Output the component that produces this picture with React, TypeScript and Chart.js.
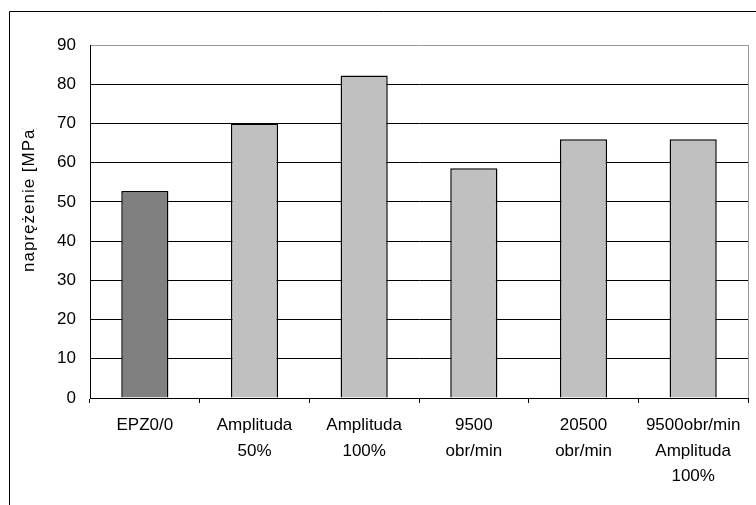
import React, { useEffect, useRef } from "react";
import { Chart, registerables } from "chart.js";

Chart.register(...registerables);

// Tensile stress for each processing variant
const categories: string[][] = [
  ["EPZ0/0"],
  ["Amplituda", "50%"],
  ["Amplituda", "100%"],
  ["9500", "obr/min"],
  ["20500", "obr/min"],
  ["9500obr/min", "Amplituda", "100%"],
];
const stressValues: number[] = [52.8, 70, 82.2, 58.6, 66, 66];
const barColors: string[] = ["#808080", "#C0C0C0", "#C0C0C0", "#C0C0C0", "#C0C0C0", "#C0C0C0"];
const yAxisTitle = "naprężenie [MPa]";
const yMin = 0;
const yMax = 90;
const yStep = 10;

const FONT = "'Liberation Sans', Arial, sans-serif";

const framePlugin = {
  id: "frame",
  beforeDraw(chart: any) {
    const { ctx, width, height } = chart;
    ctx.save();
    ctx.fillStyle = "#fff";
    ctx.fillRect(0, 0, width, height);
    ctx.strokeStyle = "#000";
    ctx.lineWidth = 1;
    ctx.beginPath();
    ctx.moveTo(9.5, height + 2);
    ctx.lineTo(9.5, 11.5);
    ctx.lineTo(width + 2, 11.5);
    ctx.stroke();
    ctx.restore();
  },
  afterDraw(chart: any) {
    const { ctx, chartArea } = chart;
    ctx.save();
    // plot-area border on the right side
    ctx.strokeStyle = "#999";
    ctx.lineWidth = 1;
    ctx.beginPath();
    ctx.moveTo(Math.round(chartArea.right) + 0.5, chartArea.top);
    ctx.lineTo(Math.round(chartArea.right) + 0.5, chartArea.bottom);
    ctx.stroke();

    // rotated axis title, cut at the top like a fixed-size label box
    ctx.beginPath();
    ctx.rect(0, 128, 60, 300);
    ctx.clip();
    ctx.translate(34, 272);
    ctx.rotate(-Math.PI / 2);
    ctx.fillStyle = "#000";
    ctx.font = `17px ${FONT}`;
    (ctx as any).letterSpacing = "1px";
    ctx.textAlign = "left";
    ctx.textBaseline = "alphabetic";
    ctx.fillText(yAxisTitle, 0, 0);
    ctx.restore();
  },
};

export default function App() {
  const canvasRef = useRef<HTMLCanvasElement | null>(null);

  useEffect(() => {
    const canvas = canvasRef.current;
    if (!canvas) return;
    const chart = new Chart(canvas, {
      type: "bar",
      data: {
        labels: categories,
        datasets: [
          {
            data: stressValues,
            backgroundColor: barColors,
            borderColor: "#000",
            borderWidth: 1.5,
            barPercentage: 0.43,
            categoryPercentage: 1,
          },
        ],
      },
      options: {
        responsive: false,
        animation: false,
        devicePixelRatio: 1,
        layout: { padding: { left: 0, top: 45, right: 8, bottom: 0 } },
        plugins: {
          legend: { display: false },
          tooltip: { enabled: false },
          title: { display: false },
        },
        scales: {
          x: {
            grid: {
              offset: true,
              drawOnChartArea: false,
              drawTicks: true,
              tickLength: 5,
              color: "#000",
            },
            border: { color: "#000" },
            ticks: {
              color: "#000",
              font: { family: FONT, size: 17, lineHeight: 1.5 },
              padding: 10,
              autoSkip: false,
              maxRotation: 0,
              minRotation: 0,
            },
            afterFit(scale: any) {
              scale.height = 107;
            },
          },
          y: {
            min: yMin,
            max: yMax,
            ticks: {
              stepSize: yStep,
              color: "#000",
              font: { family: FONT, size: 17 },
              padding: 14,
            },
            grid: {
              drawTicks: false,
              color: (c: any) => (c.tick && c.tick.value === yMax ? "#999" : "#000"),
            },
            border: { color: "#000" },
            afterFit(scale: any) {
              scale.width = 90;
            },
          },
        },
      },
      plugins: [framePlugin],
    });
    return () => chart.destroy();
  }, []);

  return (
    <div style={{ position: "fixed", left: 0, top: 0, width: 756, height: 505, background: "#fff" }}>
      <canvas ref={canvasRef} width={756} height={505} style={{ width: 756, height: 505, display: "block" }} />
    </div>
  );
}
